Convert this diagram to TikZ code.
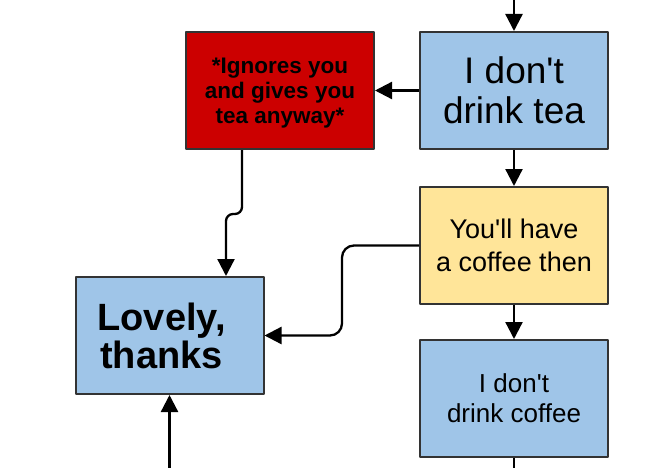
\documentclass[tikz,border=0pt]{standalone}
\usepackage{fontspec}
\setmainfont{Liberation Sans}
\usepackage{tikz}
\usetikzlibrary{arrows.meta}
\definecolor{ColAnswer}{RGB}{159,197,232}
\definecolor{ColRude}{RGB}{204,0,0}
\definecolor{ColOffer}{RGB}{255,229,153}
\definecolor{ColEdge}{RGB}{51,51,51}
\newcommand{\apos}{\textquotesingle}

\begin{document}
\begin{tikzpicture}[
  x=1pt, y=-1pt,
  >={Triangle[length=17pt,width=17pt]},
  line join=round,
  box/.style={draw=ColEdge, line width=2pt, minimum width=188pt,
    minimum height=117pt, align=center, inner sep=0pt},
  conn/.style={->, line width=2.3pt, black}
]
  \useasboundingbox (0,0) rectangle (650,468);

  \coordinate (in)  at (514,0);
  \coordinate (inL) at (169.5,468);
  \coordinate (out) at (514,468);

  % The boxes
  \node[box, fill=ColAnswer, font=\fontsize{37}{40}\selectfont] (tea) at (514,90.5)
    {I don\apos t\\drink tea};
  \node[box, fill=ColRude, font=\bfseries\fontsize{22.5}{25}\selectfont,
    text depth=-8pt] (ignore) at (280,90.5)
    {*Ignores you\\and gives you\\tea anyway*};
  \node[box, fill=ColOffer, font=\fontsize{27}{33}\selectfont] (coffee) at (514,245.5)
    {You\apos ll have\\a coffee then};
  \node[box, fill=ColAnswer, font=\bfseries\fontsize{38}{38}\selectfont] (lovely) at (169.5,335.5)
    {Lovely,\hspace*{16pt}\\thanks\hspace*{16pt}};
  \node[box, fill=ColAnswer, font=\fontsize{26}{30}\selectfont] (nocoffee) at (514,398.5)
    {I don\apos t\\drink coffee};

  % Straight arrows
  \draw[conn] (in) -- (tea);
  \draw[conn] (tea) -- (ignore);
  \draw[conn] (tea) -- (coffee);
  \draw[conn] (coffee) -- (nocoffee);
  \draw[conn] (inL) -- (lovely.south);
  \draw[line width=2.3pt] (nocoffee) -- (out);

  % Bent arrows into the answer
  \draw[conn, rounded corners=7pt] ([xshift=-38pt]ignore.south) -- ++(0,64)
    -| ([xshift=56.5pt]lovely.north);
  \draw[conn, rounded corners=12pt] (coffee.west) -- ++(-77,0) |- (lovely.east);
\end{tikzpicture}
\end{document}
